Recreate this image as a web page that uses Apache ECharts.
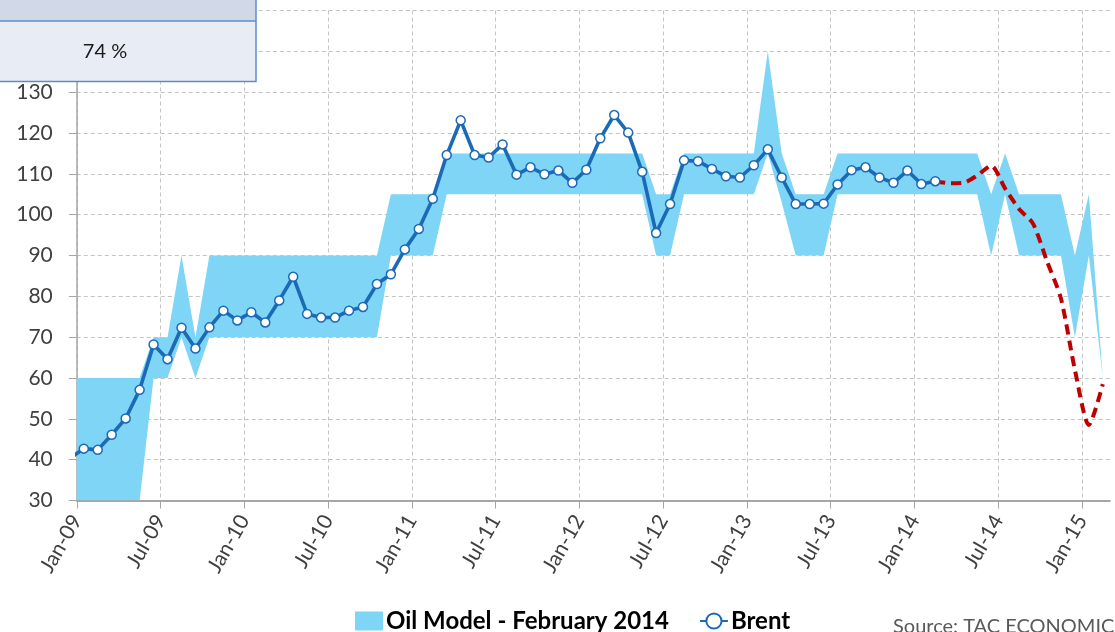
<!DOCTYPE html>
<html>
<head>
<meta charset="utf-8">
<script src="https://cdn.jsdelivr.net/npm/echarts@6/dist/echarts.min.js"></script>
<style>
  html, body { margin: 0; padding: 0; background: #ffffff; }
  #chart { width: 1115px; height: 632px; }
</style>
</head>
<body>
<div id="chart"></div>
<script>
// Month index: Jan-09 = 0. Each monthly value is plotted at the middle of its month.
const tickLabels = ['Jan-09', 'Jul-09', 'Jan-10', 'Jul-10', 'Jan-11', 'Jul-11', 'Jan-12',
                    'Jul-12', 'Jan-13', 'Jul-13', 'Jan-14', 'Jul-14', 'Jan-15'];

// Brent monthly average, USD/bbl, Dec-08 .. Feb-14
const brentStart = -1;
const brent = [40.3,
  42.7, 42.4, 46.1, 50.1, 57.1, 68.2, 64.6, 72.3, 67.2, 72.4, 76.5, 74.1,
  76.1, 73.6, 79.0, 84.8, 75.7, 74.8, 74.8, 76.5, 77.4, 83.0, 85.4, 91.5,
  96.5, 103.9, 114.6, 123.1, 114.6, 114.0, 117.2, 109.8, 111.6, 109.9, 110.8, 107.8,
  111.0, 118.7, 124.4, 120.1, 110.5, 95.5, 102.6, 113.3, 113.1, 111.2, 109.4, 109.1,
  112.1, 116.0, 109.1, 102.6, 102.6, 102.7, 107.4, 110.9, 111.6, 109.1, 107.8, 110.8,
  107.5, 108.2];

// Brent after the model date, Feb-14 .. Feb-15
const forecastStart = 61;
const forecast = [108.2, 107.7, 107.8, 109.6, 112.0, 106.4, 101.4, 97.8, 88.6, 79.5, 62.0, 48.5, 58.5];

// Oil model range, Dec-08 .. Feb-15
const bandStart = -1;
const bandLower = [30,
  30, 30, 30, 30, 30, 60, 60, 70, 60, 70, 70, 70,
  70, 70, 70, 70, 70, 70, 70, 70, 70, 70, 90, 90,
  90, 90, 105, 105, 105, 105, 105, 105, 105, 105, 105, 105,
  105, 105, 105, 105, 105, 90, 90, 105, 105, 105, 105, 105,
  105, 115, 103, 90, 90, 90, 105, 105, 105, 105, 105, 105,
  105, 105, 105, 105, 105, 90, 105, 90, 90, 90, 90, 70,
  90, 60];
const bandUpper = [60,
  60, 60, 60, 60, 60, 70, 70, 90, 70, 90, 90, 90,
  90, 90, 90, 90, 90, 90, 90, 90, 90, 90, 105, 105,
  105, 105, 115, 115, 115, 115, 115, 115, 115, 115, 115, 115,
  115, 115, 115, 115, 115, 105, 105, 115, 115, 115, 115, 115,
  115, 140, 115, 105, 105, 105, 115, 115, 115, 115, 115, 115,
  115, 115, 115, 115, 115, 105, 115, 105, 105, 105, 105, 90,
  105, 60];

const modelName = 'Oil Model - February 2014';
const brentName = 'Brent';
const boxValue = '74 %';
const sourceText = 'Source: TAC ECONOMICS';

const tickMonths = tickLabels.map((_, i) => i * 6);
const toPoints = (start, values) => values.map((v, i) => [start + i + 0.5, v]);
const bandRows = bandLower.map((lo, i) => [bandStart + i + 0.5, lo, bandUpper[i]]);

const chart = echarts.init(document.getElementById('chart'), null, { renderer: 'canvas' });

const gridColor = '#C4C4C4';
const axisColor = '#A6A6A6';
const textColor = '#404040';
const bandColor = '#7ED5F6';
const brentColor = '#1B6AB6';
const font = 'Lato';

// The model range is one filled polygon: upper edge left to right, lower edge back.
function renderBand(params, api) {
  if (params.dataIndexInside !== 0) return null;
  const n = params.dataInsideLength;
  const top = [], bottom = [];
  for (let i = 0; i < n; i++) {
    const x = api.value(0, i);
    top.push(api.coord([x, api.value(2, i)]));
    bottom.push(api.coord([x, api.value(1, i)]));
  }
  const cs = params.coordSys;
  return {
    type: 'polygon',
    shape: { points: top.concat(bottom.reverse()) },
    style: { fill: bandColor, stroke: null },
    clipPath: { type: 'rect', shape: { x: cs.x, y: cs.y, width: cs.width, height: cs.height } }
  };
}

chart.setOption({
  animation: false,
  backgroundColor: '#ffffff',
  grid: { left: 76.8, top: 6.9, right: 5.2, bottom: 131.5, containLabel: false },
  xAxis: {
    type: 'value',
    min: 0,
    max: 74,
    interval: 6,
    axisLine: { show: true, lineStyle: { color: axisColor, width: 2 } },
    axisTick: { show: true, length: 8, customValues: tickMonths, lineStyle: { color: axisColor, width: 1 } },
    axisLabel: {
      customValues: tickMonths,
      rotate: 60,
      margin: 16,
      color: textColor,
      fontFamily: font,
      fontSize: 21,
      formatter: v => tickLabels[Math.round(v / 6)] || ''
    },
    splitLine: { show: true, lineStyle: { color: gridColor, type: [4, 3], width: 1 } }
  },
  yAxis: {
    type: 'value',
    min: 30,
    max: 150,
    interval: 10,
    axisLine: { show: true, lineStyle: { color: axisColor, width: 1.5 } },
    axisTick: { show: true, length: 8, lineStyle: { color: axisColor, width: 1 } },
    axisLabel: { margin: 24, color: textColor, fontFamily: font, fontSize: 21 },
    splitLine: { show: true, lineStyle: { color: gridColor, type: [4, 3], width: 1 } }
  },
  legend: {
    left: 350,
    top: 604,
    itemWidth: 28,
    itemHeight: 19,
    itemGap: 30,
    textStyle: { fontFamily: font, fontWeight: 'bold', fontSize: 24, color: '#000000', padding: [0, 0, 0, -2] },
    data: [
      { name: modelName, icon: 'rect' },
      { name: brentName }
    ]
  },
  series: [
    {
      name: modelName,
      type: 'custom',
      data: bandRows,
      encode: { x: 0, y: [1, 2] },
      renderItem: renderBand,
      itemStyle: { color: bandColor },
      clip: true,
      silent: true,
      z: 1
    },
    {
      name: brentName,
      type: 'line',
      data: toPoints(brentStart, brent),
      symbol: 'circle',
      symbolSize: 9,
      showAllSymbol: true,
      itemStyle: { color: '#ffffff', borderColor: brentColor, borderWidth: 1.5 },
      lineStyle: { color: brentColor, width: 3.6 },
      z: 4
    },
    {
      name: 'forecast',
      type: 'line',
      data: toPoints(forecastStart, forecast),
      symbol: 'none',
      smooth: 0.25,
      lineStyle: { color: '#C00000', width: 4, type: [10, 6] },
      z: 3
    }
  ],
  graphic: [
    { type: 'rect', z: 100, shape: { x: 0, y: 0, width: 256, height: 21 }, style: { fill: '#D1D9E9' } },
    { type: 'rect', z: 100, shape: { x: 0, y: 21, width: 256, height: 60.5 }, style: { fill: '#E8EDF5' } },
    { type: 'line', z: 101, shape: { x1: 0, y1: 21, x2: 256, y2: 21 }, style: { stroke: '#5E8CC8', lineWidth: 1.5 } },
    { type: 'polyline', z: 101, shape: { points: [[256, 0], [256, 81.5], [0, 81.5]] }, style: { stroke: '#5E8CC8', lineWidth: 1.5, fill: null } },
    { type: 'text', z: 102, x: 105, y: 52, style: { text: boxValue, font: '20px Lato', fill: '#1A1A1A', align: 'center', verticalAlign: 'middle' } },
    { type: 'text', z: 102, x: 893, y: 617, style: { text: sourceText, font: '20px Lato', fill: '#595959', align: 'left', verticalAlign: 'top' } }
  ]
});
</script>
</body>
</html>
